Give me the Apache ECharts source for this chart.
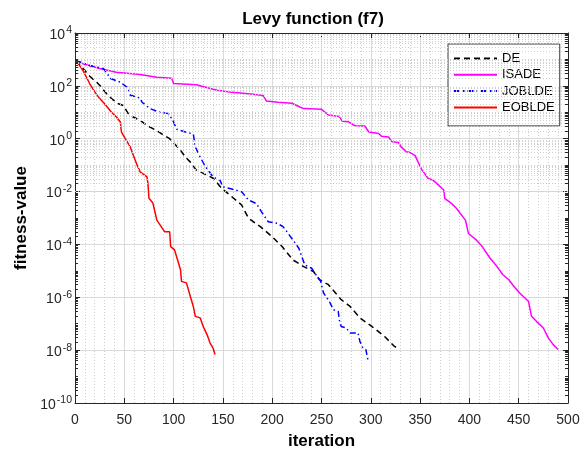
<!DOCTYPE html>
<html>
<head>
<meta charset="utf-8">
<script src="https://cdn.jsdelivr.net/npm/echarts@6/dist/echarts.min.js"></script>
<style>
  html, body { margin: 0; padding: 0; background: #fff; }
  #chart { width: 588px; height: 451px; }
</style>
</head>
<body>
<div id="chart"></div>
<script>
// values (iteration, best fitness)
const deIter = [1, 15, 22, 25, 32, 37, 44, 49, 54, 59, 66, 73, 79, 85, 90, 96, 107, 112, 117, 123, 134, 140, 149, 157, 169, 176, 188, 200, 210, 221, 232, 242, 248, 257, 270, 279, 289, 301, 314, 324, 329];
const deFit = [9.1e2, 2.3e2, 1.38e2, 1.05e2, 5.1e1, 3.3e1, 2.1e1, 1.8e1, 8.9, 6.6, 5.0, 3.2, 2.4, 1.8, 1.35, 1.0,
  3.7e-1, 2.0e-1, 1.3e-1, 6.5e-2, 4.2e-2, 3.2e-2, 1.3e-2, 7.4e-3, 3.1e-3, 9.8e-4, 4.7e-4, 1.95e-4, 8.3e-5, 2.6e-5,
  1.45e-5, 9.3e-6, 4.6e-6, 3.0e-6, 8.1e-7, 4.5e-7, 1.66e-7, 7.9e-8, 3.3e-8, 1.38e-8, 1.12e-8];

const isadeIter = [1, 8, 25, 42, 66, 83, 98, 100, 123, 144, 157, 178, 191, 194, 206, 220, 228, 232, 250, 257, 268, 271, 277, 284, 294, 298, 308, 311, 318, 321, 328, 331, 336, 340, 345, 348, 352, 358, 363, 367, 374, 375, 382, 387, 392, 396, 399, 407, 413, 421, 428, 434, 440, 445, 451, 460, 463, 468, 475, 480, 485, 490];
const isadeFit = [9.1e2, 6.9e2, 4.5e2, 3.3e2, 2.7e2, 2.1e2, 1.95e2, 1.23e2, 1.1e2, 6.8e1, 5.9e1, 4.9e1, 4.3e1, 2.7e1, 2.4e1, 2.2e1,
  1.58e1, 1.38e1, 1.29e1, 7.9, 6.9, 4.6, 4.4, 3.1, 3.0, 1.8, 1.58, 1.23, 1.17, 7.9e-1, 7.2e-1, 4.8e-1, 3.2e-1, 3.0e-1,
  2.3e-1, 1.3e-1, 6.5e-2, 3.2e-2, 2.7e-2, 2.0e-2, 1.15e-2, 5.5e-3, 3.5e-3, 2.3e-3, 1.29e-3, 8.3e-4, 2.6e-4, 1.48e-4,
  8.3e-5, 3.0e-5, 1.45e-5, 7.1e-6, 4.6e-6, 2.6e-6, 1.45e-6, 6.9e-7, 1.9e-7, 1.23e-7, 6.9e-8, 2.9e-8, 1.62e-8, 1.05e-8];

const jobldeIter = [1, 15, 29, 36, 46, 54, 56, 66, 68, 76, 86, 95, 100, 103, 112, 120, 122, 127, 132, 140, 147, 150, 157, 169, 176, 184, 189, 196, 205, 211, 215, 221, 227, 230, 233, 240, 245, 249, 252, 258, 262, 267, 268, 270, 275, 279, 287, 289, 292, 295, 297];
const jobldeFit = [9.1e2, 5.9e2, 4.5e2, 1.9e2, 1.38e2, 8.1e1, 4.4e1, 3.5e1, 2.4e1, 1.38e1, 1.0e1, 8.9, 4.3, 2.3, 1.8, 1.5,
  4.9e-1, 2.0e-1, 9.1e-2, 3.6e-2, 2.7e-2, 1.5e-2, 1.3e-2, 9.8e-3, 4.8e-3, 3.5e-3, 1.74e-3, 7.2e-4, 6.3e-4, 4.7e-4,
  3.0e-4, 1.48e-4, 7.2e-5, 3.5e-5, 1.7e-5, 1.26e-5, 6.5e-6, 4.2e-6, 1.48e-6, 6.9e-7, 3.4e-7, 2.9e-7, 1.41e-7, 7.9e-8,
  6.9e-8, 4.5e-8, 4.5e-8, 2.1e-8, 1.2e-8, 1.05e-8, 4.4e-9];

const eobldeIter = [1, 8, 15, 20, 25, 30, 37, 42, 46, 47, 51, 56, 63, 66, 73, 74, 75, 79, 83, 91, 96, 97, 101, 107, 108, 113, 117, 120, 122, 127, 130, 134, 137, 140, 142];
const eobldeFit = [9.1e2, 3.85e2, 1.2e2, 5.9e1, 3.3e1, 2.1e1, 1.0e1, 6.6, 4.3, 1.8, 1.0, 4.9e-1, 1.0e-1, 5.6e-2, 3.6e-2,
  2.0e-2, 5.6e-3, 3.7e-3, 8.3e-4, 3.0e-4, 3.0e-4, 8.3e-5, 6.2e-5, 1.1e-5, 4.0e-6, 3.5e-6, 1.07e-6, 4.5e-7, 1.9e-7,
  1.66e-7, 7.9e-8, 3.8e-8, 1.86e-8, 1.2e-8, 6.8e-9];

const seriesNames = ['DE', 'ISADE', 'JOBLDE', 'EOBLDE'];
const xTicks = { min: 0, max: 500, step: 50 };
const yRange = { min: 1e-10, max: 1e4 };
const minorMultipliers = [1, 2, 3, 4, 5, 6, 7, 8, 9];

function zip(xs, ys) {
  return xs.map((x, i) => [x, ys[i]]);
}

// dotted minor grid + inner minor ticks on the log axis (2..9 x 10^k, odd decades)
const minorGrid = [];
const minorTicks = [];
for (let k = -10; k < 4; k++) {
  minorMultipliers.forEach((m) => {
    if (m === 1 && k % 2 === 0) return;
    const v = m * Math.pow(10, k);
    minorGrid.push({ yAxis: v });
    minorTicks.push([{ coord: [0, v] }, { coord: [3, v] }]);
    minorTicks.push([{ coord: [497, v] }, { coord: [500, v] }]);
  });
}

const chart = echarts.init(document.getElementById('chart'), null, { renderer: 'canvas' });

const axisColor = '#262626';
const fontFamily = '"Liberation Sans", Arial, Helvetica, sans-serif';

const line = (name, xs, ys, color, type) => ({
  name,
  type: 'line',
  data: zip(xs, ys),
  showSymbol: false,
  symbol: 'none',
  z: 3,
  lineStyle: { color, width: 1.5, type },
  itemStyle: { color },
});

chart.setOption({
  animation: false,
  textStyle: { fontFamily },
  title: {
    text: 'Levy function (f7)',
    left: 313,
    top: 11,
    padding: 0,
    textAlign: 'center',
    textStyle: { fontSize: 17, fontWeight: 'bold', color: '#000', fontFamily },
  },
  legend: {
    data: seriesNames,
    orient: 'vertical',
    left: 448,
    top: 44,
    padding: [8, 5, 12, 5],
    itemWidth: 43,
    itemHeight: 14,
    itemGap: 3.3,
    itemTextGap: 4,
    backgroundColor: '#fff',
    borderColor: '#3a3a3a',
    borderWidth: 1,
    borderRadius: 0,
    itemStyle: { opacity: 0 },
    textStyle: { fontSize: 13, color: '#000', fontFamily },
  },
  grid: {
    left: 75,
    top: 33,
    width: 493,
    height: 370,
    containLabel: false,
    outerBoundsMode: 'none',
  },
  xAxis: [
    {
      type: 'value',
      min: xTicks.min,
      max: xTicks.max,
      interval: xTicks.step,
      name: 'iteration',
      nameLocation: 'middle',
      nameGap: 30,
      nameTextStyle: { fontSize: 17, fontWeight: 'bold', color: '#000', fontFamily },
      axisLine: { show: true, onZero: false, lineStyle: { color: axisColor, width: 1 } },
      axisTick: { show: true, inside: true, length: 5, lineStyle: { color: axisColor } },
      axisLabel: { fontSize: 14, color: axisColor, margin: 10, fontFamily },
      splitLine: { show: true, lineStyle: { color: '#dadada', width: 1 } },
      minorTick: { show: false, splitNumber: 5 },
      minorSplitLine: { show: true, lineStyle: { color: '#cfcfcf', width: 1, type: [1, 2] } },
    },
    {
      type: 'value',
      position: 'top',
      min: xTicks.min,
      max: xTicks.max,
      interval: xTicks.step,
      axisLine: { show: true, onZero: false, lineStyle: { color: axisColor, width: 1 } },
      axisTick: { show: true, inside: true, length: 5, lineStyle: { color: axisColor } },
      axisLabel: { show: false },
      splitLine: { show: false },
    },
  ],
  yAxis: [
    {
      type: 'log',
      logBase: 100,
      min: yRange.min,
      max: yRange.max,
      name: 'fitness-value',
      nameLocation: 'middle',
      nameGap: 44,
      nameTextStyle: { fontSize: 17, fontWeight: 'bold', color: '#000', fontFamily },
      axisLine: { show: true, onZero: false, lineStyle: { color: axisColor, width: 1 } },
      axisTick: { show: true, inside: true, length: 5, lineStyle: { color: axisColor } },
      axisLabel: {
        margin: 3,
        color: axisColor,
        formatter: (v) => '{b|10}{s|' + Math.round(Math.log10(v)) + '}',
        rich: {
          b: { fontSize: 14, color: axisColor, fontFamily, padding: [4, 0, 0, 0], verticalAlign: 'bottom' },
          s: { fontSize: 10.5, color: axisColor, fontFamily, padding: [1, 0, 0, 1], verticalAlign: 'top' },
        },
      },
      splitLine: { show: true, lineStyle: { color: '#dadada', width: 1 } },
    },
    {
      type: 'log',
      logBase: 100,
      min: yRange.min,
      max: yRange.max,
      position: 'right',
      axisLine: { show: true, onZero: false, lineStyle: { color: axisColor, width: 1 } },
      axisTick: { show: true, inside: true, length: 5, lineStyle: { color: axisColor } },
      axisLabel: { show: false },
      splitLine: { show: false },
    },
  ],
  series: [
    {
      name: 'grid',
      type: 'line',
      data: [],
      z: 1,
      silent: true,
      markLine: {
        silent: true,
        symbol: ['none', 'none'],
        label: { show: false },
        animation: false,
        lineStyle: { color: '#cfcfcf', width: 1, type: [1, 2] },
        emphasis: { disabled: true },
        data: minorGrid,
      },
    },
    {
      name: 'ticks',
      type: 'line',
      data: [],
      z: 4,
      silent: true,
      markLine: {
        silent: true,
        symbol: ['none', 'none'],
        label: { show: false },
        animation: false,
        lineStyle: { color: axisColor, width: 1, type: 'solid' },
        emphasis: { disabled: true },
        data: minorTicks,
      },
    },
    line('DE', deIter, deFit, '#000000', [6, 4]),
    line('ISADE', isadeIter, isadeFit, '#ff00ff', 'solid'),
    line('JOBLDE', jobldeIter, jobldeFit, '#0000ff', [6, 3, 1.5, 3]),
    line('EOBLDE', eobldeIter, eobldeFit, '#ff0000', 'solid'),
  ],
});
</script>
</body>
</html>
